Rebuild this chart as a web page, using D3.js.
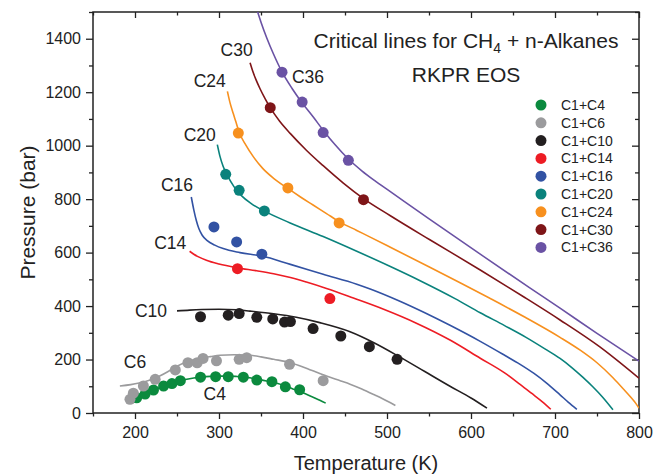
<!DOCTYPE html>
<html>
<head>
<meta charset="utf-8">
<script src="https://cdn.jsdelivr.net/npm/d3@7"></script>
<style>
  body { margin: 0; background: #fff; }
  svg { font-family: "Liberation Sans", Arial, sans-serif; }
  .tick text { font-size: 16px; fill: #222; }
  .tick line { stroke: #222; stroke-width: 1.3; }
</style>
</head>
<body>
<svg id="chart" width="670" height="476"></svg>
<script>
// ticks
const xMajor = [200, 300, 400, 500, 600, 700, 800]
const xMinor = [150, 250, 350, 450, 550, 650, 750]
const yMajor = [0, 200, 400, 600, 800, 1000, 1200, 1400]
const yMinor = [100, 300, 500, 700, 900, 1100, 1300, 1500]

// calculated critical lines [T (K), P (bar)]
const c4Line = [[195,45],[200,52],[210,66],[220,82],[230,95],[240,106],[250,117],[260,125],[270,131],[280,135],[290,137],[300,138],[310,138],[320,137],[330,135],[340,130],[350,124],[360,117],[370,110],[380,100],[390,88],[400,76],[410,62],[420,48],[427,37]]
const c6Line = [[182,101],[195,106],[205,112],[218,123],[230,139],[240,156],[250,175],[262,192],[277,204],[290,211],[301,216],[318,218],[333,217],[350,210],[365,201],[384,189],[396,177],[410,160],[428,138],[445,120],[456,108],[470,90],[485,68],[500,45],[510,28]]
const c10Line = [[250,382],[265,385],[280,387],[300,388],[321,386],[337,381],[365,371],[392,358],[420,338],[456,304],[485,262],[515,210],[545,155],[575,100],[600,56],[619,18]]
const c14Line = [[265,605],[270,594],[275,585],[285,571],[300,557],[322,543],[345,532],[365,521],[385,507],[404,490],[428,466],[460,430],[496,388],[535,336],[575,273],[611,205],[640,150],[658,108],[672,74],[685,42],[695,14]]
const c16Line = [[267,808],[270,760],[273,720],[276,690],[280,665],[286,645],[295,628],[305,615],[325,600],[351,587],[385,556],[424,519],[464,482],[480,464],[514,420],[545,375],[575,328],[611,268],[640,216],[658,183],[675,148],[690,112],[706,68],[716,40],[726,14]]
const c20Line = [[298,1004],[301,962],[305,922],[311,882],[318,846],[327,812],[338,784],[354,755],[384,712],[424,660],[464,605],[504,548],[540,494],[581,428],[611,375],[640,327],[665,284],[688,240],[706,204],[720,170],[733,134],[745,98],[757,58],[769,12]]
const c24Line = [[310,1203],[313,1162],[317,1120],[320,1090],[324,1050],[332,1002],[341,958],[352,915],[365,878],[382,840],[397,808],[412,778],[428,746],[443,716],[464,683],[480,658],[504,620],[551,545],[587,487],[623,428],[665,357],[706,283],[730,235],[750,188],[769,132],[782,88],[790,60],[796,37],[800,18]]
const c30Line = [[337,1310],[340,1280],[344,1247],[349,1212],[355,1175],[361,1142],[372,1092],[385,1045],[404,983],[424,925],[448,860],[472,802],[504,738],[551,648],[611,535],[664,432],[706,348],[753,248],[800,130]]
const c36Line = [[345,1510],[350,1462],[357,1402],[365,1342],[375,1276],[387,1214],[399,1160],[412,1108],[424,1058],[438,1004],[454,950],[470,906],[485,870],[504,828],[551,724],[611,594],[670,468],[706,392],[750,298],[800,194]]

// experimental points [T (K), P (bar)]
const c4Pts = [[202,57],[212,71],[222,86],[234,101],[244,110],[254,121],[278,134],[296,136],[311,136],[329,134],[345,123],[363,117],[379,98],[396,87]]
const c6Pts = [[194,51],[198,74],[210,101],[224,126],[248,161],[263,188],[274,188],[281,204],[297,195],[324,201],[333,207],[384,182],[424,121]]
const c10Pts = [[278,360],[311,366],[324,372],[345,358],[364,352],[378,340],[385,342],[412,316],[445,288],[479,248],[512,201]]
const c14Pts = [[322,540],[432,428]]
const c16Pts = [[294,696],[321,640],[351,594]]
const c20Pts = [[308,893],[324,833],[354,756]]
const c24Pts = [[323,1047],[382,842],[443,711]]
const c30Pts = [[361,1142],[472,798]]
const c36Pts = [[375,1275],[399,1163],[424,1049],[454,945]]

const names = ['C1+C4', 'C1+C6', 'C1+C10', 'C1+C14', 'C1+C16', 'C1+C20', 'C1+C24', 'C1+C30', 'C1+C36']
const tags = ['C4', 'C6', 'C10', 'C14', 'C16', 'C20', 'C24', 'C30', 'C36']
// where each curve's tag sits, in data units [T, P]
const tagAt = [[295,49],[200,168],[219,359],[242,613],[250,829],[277,1016],[289,1221],[321,1337],[406,1233]]

const colors = ['#0b8a3e', '#9b9b9d', '#231f20', '#ed1c24', '#3252a3', '#0a827c', '#f7901e', '#7e1518', '#6a52a4']
const lines = [c4Line, c6Line, c10Line, c14Line, c16Line, c20Line, c24Line, c30Line, c36Line]
const points = [c4Pts, c6Pts, c10Pts, c14Pts, c16Pts, c20Pts, c24Pts, c30Pts, c36Pts]

const series = names.map((n, i) => ({ name: n, tag: tags[i], color: colors[i], line: lines[i], pts: points[i], tagAt: tagAt[i] }))

const margin = { left: 93, top: 12 }
const W = 546
const H = 401

const svg = d3.select('#chart')
const g = svg.append('g').attr('transform', `translate(${margin.left},${margin.top})`)

const x = d3.scaleLinear().domain([150, 800]).range([0, W])
const y = d3.scaleLinear().domain([0, 1500]).range([H, 0])

g.append('clipPath').attr('id', 'plot')
  .append('rect').attr('width', W).attr('height', H)

// axes: labelled outward ticks bottom/left, mirrored inward ticks top/right
function noDomain (sel) { sel.select('.domain').remove() }

g.append('g').attr('transform', `translate(0,${H})`)
  .call(d3.axisBottom(x).tickValues(xMajor).tickSize(6).tickPadding(8).tickFormat(d3.format('d'))).call(noDomain)
g.append('g').attr('transform', `translate(0,${H})`)
  .call(d3.axisBottom(x).tickValues(xMinor).tickSize(3.5).tickFormat('')).call(noDomain)
g.append('g').call(d3.axisBottom(x).tickValues(xMajor).tickSize(6).tickFormat('')).call(noDomain)
g.append('g').call(d3.axisBottom(x).tickValues(xMinor).tickSize(3.5).tickFormat('')).call(noDomain)

g.append('g').call(d3.axisLeft(y).tickValues(yMajor).tickSize(7).tickPadding(5).tickFormat(d3.format('d'))).call(noDomain)
g.append('g').call(d3.axisLeft(y).tickValues(yMinor).tickSize(4).tickFormat('')).call(noDomain)
g.append('g').attr('transform', `translate(${W},0)`)
  .call(d3.axisLeft(y).tickValues(yMajor).tickSize(7).tickFormat('')).call(noDomain)
g.append('g').attr('transform', `translate(${W},0)`)
  .call(d3.axisLeft(y).tickValues(yMinor).tickSize(4).tickFormat('')).call(noDomain)

g.append('rect').attr('width', W).attr('height', H)
  .attr('fill', 'none').attr('stroke', '#222').attr('stroke-width', 1.5)

// axis titles
svg.append('text').attr('x', margin.left + W / 2).attr('y', 470)
  .attr('text-anchor', 'middle').attr('font-size', 20).attr('fill', '#222')
  .text('Temperature (K)')
svg.append('text').attr('transform', `translate(35,${margin.top + H / 2}) rotate(-90)`)
  .attr('text-anchor', 'middle').attr('font-size', 21).attr('fill', '#222')
  .text('Pressure (bar)')

// curves
const line = d3.line().x(d => x(d[0])).y(d => y(d[1])).curve(d3.curveMonotoneX)
const plot = g.append('g').attr('clip-path', 'url(#plot)')

plot.selectAll('path.crit')
  .data(series)
  .enter().append('path').classed('crit', true)
  .attr('d', s => line(s.line))
  .attr('fill', 'none')
  .attr('stroke', s => s.color)
  .attr('stroke-width', 1.6)

series.forEach(s => {
  plot.selectAll(null)
    .data(s.pts)
    .enter().append('circle')
    .attr('cx', d => x(d[0]))
    .attr('cy', d => y(d[1]))
    .attr('r', 5.5)
    .attr('fill', s.color)
})

// curve tags
g.selectAll('text.tag')
  .data(series)
  .enter().append('text').classed('tag', true)
  .attr('x', s => x(s.tagAt[0]))
  .attr('y', s => y(s.tagAt[1]))
  .attr('text-anchor', 'middle')
  .attr('font-size', 17.5)
  .attr('fill', '#222')
  .text(s => s.tag)

// title
const title = svg.append('text').attr('x', 466).attr('y', 48)
  .attr('text-anchor', 'middle').attr('font-size', 21).attr('fill', '#222')
title.append('tspan').text('Critical lines for CH')
title.append('tspan').attr('font-size', 14).attr('dy', 5).text('4')
title.append('tspan').attr('dy', -5).text(' + n-Alkanes')
svg.append('text').attr('x', 466).attr('y', 82)
  .attr('text-anchor', 'middle').attr('font-size', 21).attr('fill', '#222')
  .text('RKPR EOS')

// legend
const legend = svg.append('g').attr('transform', 'translate(541,105)')
const rows = legend.selectAll('g')
  .data(series)
  .enter().append('g')
  .attr('transform', (s, i) => `translate(0,${i * 17.8})`)
rows.append('circle').attr('r', 5.5).attr('fill', s => s.color)
rows.append('text').attr('x', 20).attr('dy', '0.36em')
  .attr('font-size', 14).attr('fill', '#222')
  .text(s => s.name)
</script>
</body>
</html>
